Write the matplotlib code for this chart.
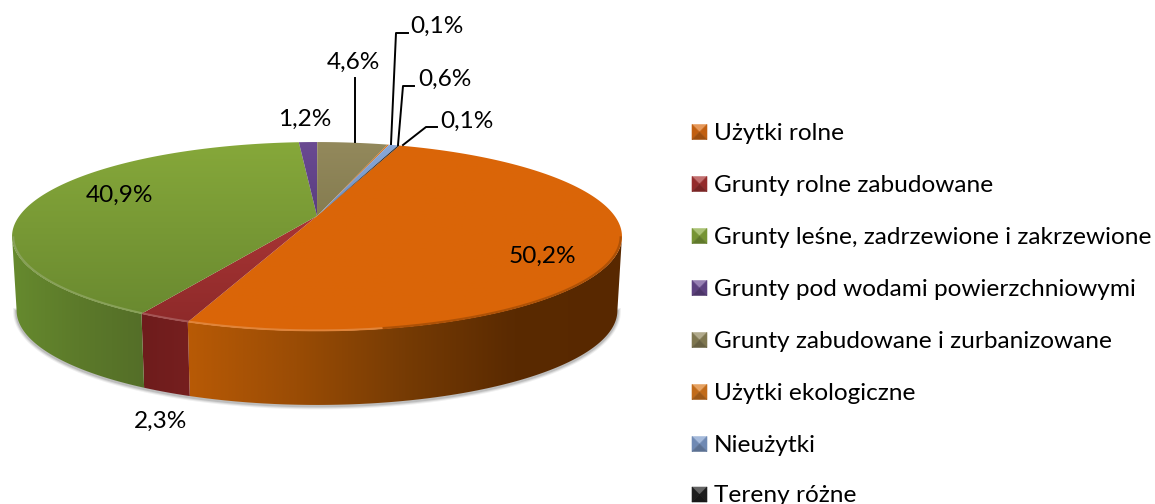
import numpy as np
import matplotlib
matplotlib.use("Agg")
import matplotlib.pyplot as plt
from matplotlib.colors import to_rgb
from matplotlib.patches import Polygon

plt.rcParams['font.family'] = ['Lato', 'DejaVu Sans']

labels = ["Użytki rolne", "Grunty rolne zabudowane", "Grunty leśne, zadrzewione i zakrzewione",
          "Grunty pod wodami powierzchniowymi", "Grunty zabudowane i zurbanizowane",
          "Użytki ekologiczne", "Nieużytki", "Tereny różne"]
values = [50.2, 2.3, 40.9, 1.2, 4.6, 0.1, 0.6, 0.1]
value_labels = ["50,2%", "2,3%", "40,9%", "1,2%", "4,6%", "0,1%", "0,6%", "0,1%"]

# top colour, bottom colour of the top face
top_cols = [("#DB6608", "#DA6508"), ("#A93535", "#8E2A2A"), ("#86A83A", "#6A8A30"),
            ("#6A4A92", "#5A3D80"), ("#93895C", "#857C50"), ("#E0700E", "#D06508"),
            ("#8AA8D8", "#6F8FC0"), ("#222222", "#111111")]
# wall colours from left to right on screen
wall_cols = [("#B85A05", "#9A4C05", "#763B04", "#5A2A01", "#582800"), ("#6E1C1C", "#761F1F"),
             ("#668A2E", "#5C7A2A", "#546E28"), ("#5A3D80", "#4A3068"), ("#857C50", "#6B6440"),
             ("#B85A05", "#9A4C05"), ("#6F8FC0", "#5A78A5"), ("#222222", "#111111")]
leg_cols = ["#DB6C12", "#A83232", "#86A83A", "#6A4A92", "#8F865A", "#DB7A1E", "#7E9CCB", "#222222"]

W, H = 1155, 504
# pseudo perspective of the disc
CX, CY, AX, BY, K = 317, 216, 297.7, 90.0, 0.217
START = 19.5
THICK = 74
SHRINK = 0.985


def project(ang, r=1.0, drop=0, shrink=1.0):
    # ang in degrees, clockwise from the back of the disc
    a = np.radians(ang)
    u, v = r * np.sin(a), r * np.cos(a)
    d = 1 + K * v
    return CX + shrink * AX * u / d, CY - BY * v / d + drop


fig = plt.figure(figsize=(W / 100, H / 100), dpi=100)
ax = fig.add_axes([0, 0, 1, 1])


def grad_fill(xs, ys, cols, horizontal=False, zorder=2):
    stops = np.array([to_rgb(c) for c in cols])
    x0, x1, y0, y1 = min(xs), max(xs), min(ys), max(ys)
    t = np.linspace(0, 1, 256)
    pos = np.linspace(0, 1, len(stops))
    ramp = np.column_stack([np.interp(t, pos, stops[:, k]) for k in range(3)])
    img = ramp[None, :, :] if horizontal else ramp[:, None, :]
    patch = Polygon(np.column_stack([xs, ys]), closed=True, fc='none', ec='none', zorder=zorder)
    ax.add_patch(patch)
    im = ax.imshow(img, extent=(x0, x1, y1, y0), aspect='auto', interpolation='bilinear', zorder=zorder)
    im.set_clip_path(patch)


# soft shadow under the wall
sa = np.linspace(102.5, 257.5, 300)
sx, sy = project(sa, drop=THICK + 1, shrink=SHRINK)
for lw, alpha in [(5, 0.12), (3.5, 0.2), (2, 0.3)]:
    ax.plot(sx, sy, color='#808080', lw=lw, alpha=alpha, zorder=1)

edges = START + np.cumsum([0] + values) * 3.6

# walls, only the front part of the rim can be seen
vis0, vis1 = 102.5, 257.5
for i in range(len(values)):
    a0, a1 = max(edges[i], vis0), min(edges[i + 1], vis1)
    if a1 <= a0:
        continue
    a = np.linspace(a0, a1, 300)
    x_t, y_t = project(a)
    x_b, y_b = project(a, drop=THICK, shrink=SHRINK)
    xs = np.r_[x_t, x_b[::-1]]
    ys = np.r_[y_t, y_b[::-1]]
    grad_fill(xs, ys, wall_cols[i], horizontal=True, zorder=2)

# top faces
for i in range(len(values)):
    a = np.linspace(edges[i], edges[i + 1], 300)
    x_t, y_t = project(a)
    grad_fill(np.r_[CX, x_t], np.r_[CY, y_t], top_cols[i], zorder=3)

# rim along the front edge, bright on the left and dark on the right
for i in range(len(values)):
    a0, a1 = max(edges[i], vis0), min(edges[i + 1], vis1)
    if a1 <= a0:
        continue
    base = np.array(to_rgb(top_cols[i][1]))
    split = min(max(a0, 170), a1)
    if split > a0:
        x_t, y_t = project(np.linspace(a0, split, 150), r=0.996)
        ax.plot(x_t, y_t, color=base * 0.8, lw=1.6, zorder=4, solid_capstyle='butt')
    if a1 > split:
        x_t, y_t = project(np.linspace(split, a1, 150), r=0.996)
        ax.plot(x_t, y_t, color=base + (1 - base) * 0.2, lw=1.4, zorder=4, solid_capstyle='butt')

# value labels
fs = 17.6
label_pos = [(542, 256), (161, 421), (120, 195), (305, 119), (353, 62), (437, 26), (445, 79), (467, 121)]
for s, (x, y) in zip(value_labels, label_pos):
    ax.text(x, y, s, ha='center', va='center', fontsize=fs, color='black', zorder=6)

# leader lines
leaders = [[(355, 78), (355, 142)],
           [(408, 33), (396, 33), (391, 144)],
           [(414, 86), (403, 86), (398, 145)],
           [(437, 127), (426, 127), (403, 145)]]
for pts in leaders:
    p = np.array(pts)
    ax.plot(p[:, 0], p[:, 1], color='black', lw=1.4, zorder=5)

# legend
leg_y = [132, 184, 236, 288, 340, 392, 444, 494.5]
for s, y, c in zip(labels, leg_y, leg_cols):
    x0, x1, y0, y1 = 692, 707, y - 7.5, y + 7.5
    xm, ym = (x0 + x1) / 2, (y0 + y1) / 2
    base = np.array(to_rgb(c))
    light = base + (1 - base) * 0.3
    for tri, col in [([(x0, y0), (x1, y0), (xm, ym)], light),
                     ([(x0, y0), (x0, y1), (xm, ym)], base * 0.88),
                     ([(x1, y0), (x1, y1), (xm, ym)], base * 0.88),
                     ([(x0, y1), (x1, y1), (xm, ym)], base * 0.72)]:
        ax.add_patch(Polygon(tri, fc=col, ec=col, lw=0.4, zorder=5))
    ax.text(713.5, y + 1.5, s, ha='left', va='center', fontsize=fs, color='black', zorder=6)

ax.set_xlim(0, W)
ax.set_ylim(H, 0)
ax.axis('off')
fig.savefig("out.png", dpi=100)
